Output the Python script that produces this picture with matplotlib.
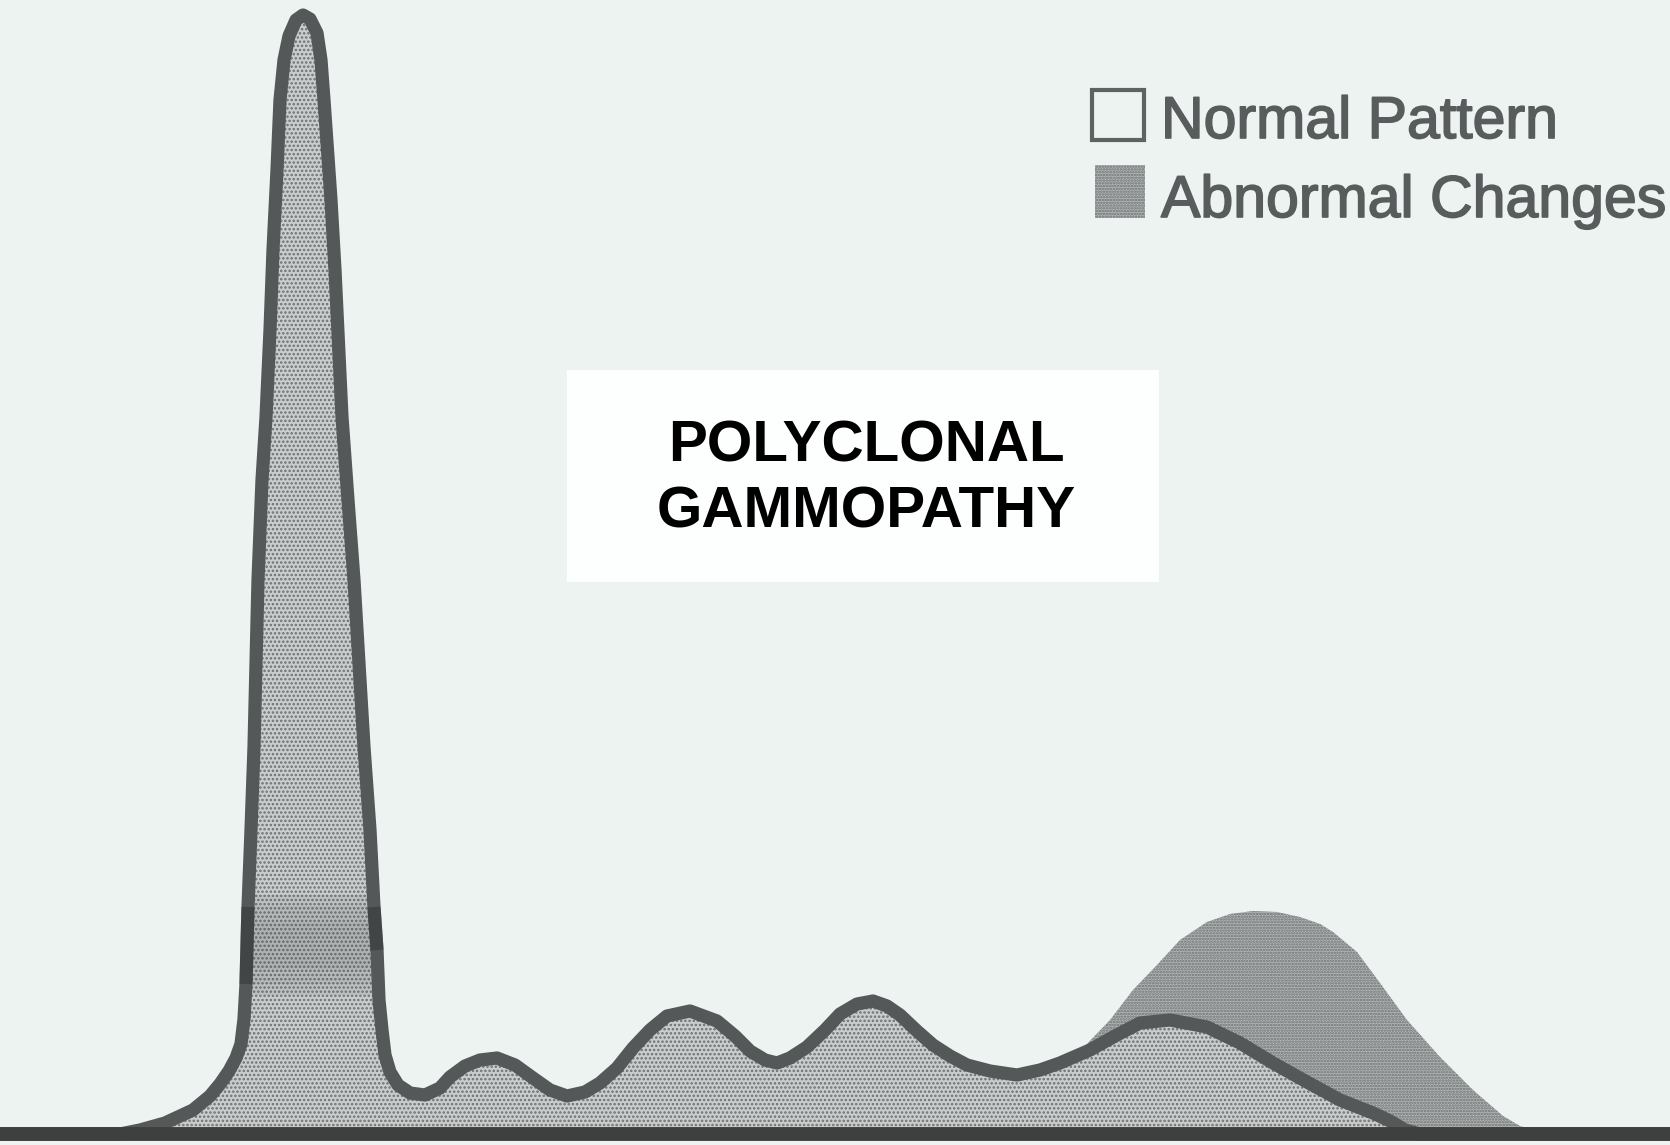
import numpy as np
import matplotlib
matplotlib.use("Agg")
import matplotlib.pyplot as plt
import matplotlib.patheffects as pe
from matplotlib.patches import Rectangle

# =================== Data ======================================
# x = migration position (px along the strip), h = density above baseline (px)
normal_x = [0, 120, 140, 165, 193, 210, 220, 229, 236, 241, 244, 246, 248, 251, 254, 258,
            262, 266, 270, 273, 277, 280, 284, 289, 296, 303, 310, 317, 321, 324, 331, 335,
            342, 348, 354, 364, 370, 374, 377, 379, 382, 385, 390, 398, 410, 425, 440, 450,
            465, 480, 497, 515, 533, 550, 567, 585, 600, 617, 633, 650, 667, 690, 717, 735,
            750, 765, 777, 790, 807, 825, 840, 857, 873, 887, 900, 917, 933, 950, 967, 990,
            1017, 1040, 1060, 1090, 1115, 1140, 1170, 1207, 1240, 1273, 1307, 1340, 1373,
            1390, 1405, 1420, 1670]
normal_h = [0, 0, 4, 11, 24, 38, 50, 63, 76, 90, 115, 150, 227, 304, 387, 554,
            654, 717, 804, 884, 964, 1034, 1074, 1098, 1114, 1119, 1115, 1101, 1074, 1034, 934, 864,
            717, 634, 554, 387, 304, 227, 184, 134, 104, 79, 62, 49, 41, 39, 46, 57,
            68, 74, 76, 69, 56, 44, 38, 42, 51, 66, 86, 104, 118, 123, 113, 98,
            83, 74, 71, 76, 87, 104, 120, 130, 133, 128, 119, 103, 89, 78, 69, 63,
            59, 64, 71, 84, 98, 111, 114, 107, 91, 71, 52, 34, 21,
            13, 4, 0, 0]

abnormal_x = [1085, 1110, 1133, 1157, 1180, 1207, 1230, 1253, 1277, 1300, 1320, 1333,
              1357, 1380, 1407, 1440, 1473, 1503, 1520, 1540, 1560]
abnormal_h = [88, 114, 144, 169, 194, 212, 220, 223, 222, 217, 210, 202,
              182, 151, 114, 77, 44, 18, 8, 3, 0]

title_lines = ["POLYCLONAL", "GAMMOPATHY"]
legend_labels = ["Normal Pattern", "Abnormal Changes"]

# =================== Style ====================
BG = "#edf3f1"
LINE = "#545858"
BASE = "#3e4040"
FILL_N = "#c9cdcd"
FILL_A = "#b2b6b6"
DOT = "#6c7070"
TXT = "#585c5c"
plt.rcParams["hatch.linewidth"] = 1.2
plt.rcParams["font.family"] = ["Liberation Sans", "DejaVu Sans"]

fig = plt.figure(figsize=(16.7, 11.45), dpi=100)
fig.patch.set_facecolor(BG)
ax = fig.add_axes([0, 0, 1, 1])
ax.set_facecolor(BG)
ax.set_xlim(0, 1670)
ax.set_ylim(-11, 1134)
ax.axis("off")

# abnormal (polyclonal) excess under the gamma region
ax.fill_between(abnormal_x, 0, abnormal_h, facecolor=FILL_A, edgecolor=DOT,
                hatch="......", linewidth=0, zorder=1)
# normal pattern
norm_fill = ax.fill_between(normal_x, 0, normal_h, facecolor=FILL_N, edgecolor=DOT,
                            hatch="....", linewidth=0, zorder=2)
ax.plot(normal_x, normal_h, color=LINE, lw=9.5, solid_joinstyle="round",
        solid_capstyle="round", zorder=3)

# darker print band across the albumin peak (scan shading), soft edges
nx, nh = np.array(normal_x), np.array(normal_h)
for lo, hi, a in [(139, 239, 0.08), (150, 228, 0.06), (165, 212, 0.05)]:
    band = ax.axhspan(lo, hi, facecolor="#3a3e3e", alpha=a, lw=0, zorder=2.5)
    band.set_clip_path(norm_fill.get_paths()[0], ax.transData)
    sel = (nx < 400) & (nh > lo - 4) & (nh < hi + 4)
    for side in (nx < 303, nx > 303):
        m = sel & side
        ax.plot(nx[m], nh[m], color="#2c2e2e", lw=9.5, alpha=0.25,
                solid_capstyle="butt", zorder=3.5)

ax.axhline(0, color=BASE, lw=10, zorder=4)

# =================== Title box ====================
ax.add_patch(Rectangle((567, 552), 592, 212, facecolor="#fdfefe", edgecolor="none", zorder=5))
ax.text(866, 672, title_lines[0], ha="center", va="baseline", fontsize=42,
        fontweight="bold", color="black", zorder=6)
ax.text(866, 606, title_lines[1], ha="center", va="baseline", fontsize=42,
        fontweight="bold", color="black", zorder=6)

# =================== Legend ====================
ax.add_patch(Rectangle((1092, 994), 52, 50, facecolor="none", edgecolor="#5e6262",
                       lw=3, zorder=5))
ax.add_patch(Rectangle((1095, 916), 50, 53, facecolor=FILL_A, edgecolor=DOT,
                       hatch="......", linewidth=0, zorder=5))
thick = [pe.withStroke(linewidth=1.2, foreground=TXT)]
ax.text(1161, 996, legend_labels[0], ha="left", va="baseline", fontsize=42.5,
        color=TXT, zorder=6, path_effects=thick)
ax.text(1161, 917, legend_labels[1], ha="left", va="baseline", fontsize=42.5,
        color=TXT, zorder=6, path_effects=thick)

fig.savefig("out.png", dpi=100, facecolor=BG)
